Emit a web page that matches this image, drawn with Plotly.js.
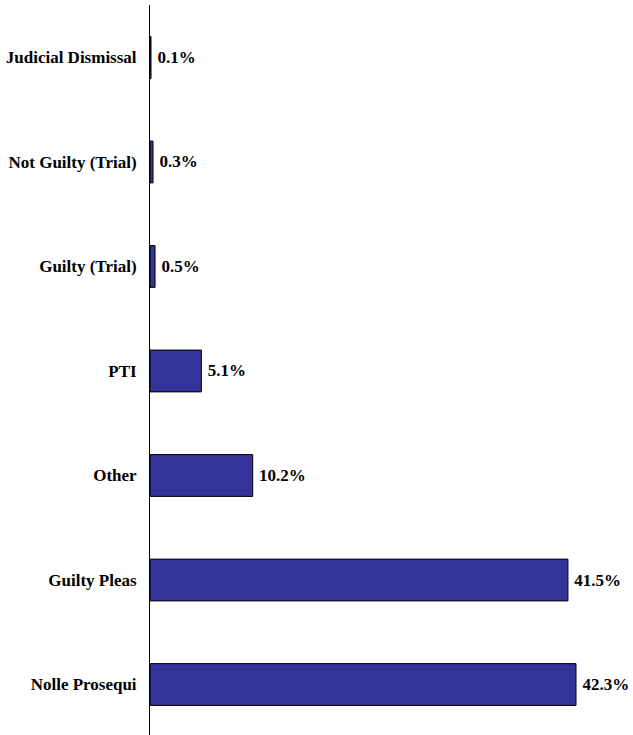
<!DOCTYPE html>
<html>
<head>
<meta charset="utf-8">
<script src="https://cdn.plot.ly/plotly-3.0.1.min.js"></script>
<style>html,body{margin:0;padding:0;background:#fff;}#chart{width:633px;height:735px;}</style>
</head>
<body>
<div id="chart"></div>
<script>
const categories = ["Judicial Dismissal", "Not Guilty (Trial)", "Guilty (Trial)", "PTI", "Other", "Guilty Pleas", "Nolle Prosequi"];
const percents = [0.1, 0.3, 0.5, 5.1, 10.2, 41.5, 42.3];

const fontFamily = "Liberation Serif, Times New Roman, serif";

const trace = {
  type: "bar",
  orientation: "h",
  y: categories,
  x: percents,
  width: 0.40,
  marker: {color: "#333399", line: {color: "#000000", width: 1}},
  texttemplate: "\u2009%{x:.1f}%",
  textposition: "outside",
  cliponaxis: false,
  textfont: {family: fontFamily, size: 17, color: "#000", weight: 700},
  hoverinfo: "none"
};

const layout = {
  width: 633,
  height: 735,
  margin: {l: 150, r: 0, t: 5, b: 0, pad: 0},
  paper_bgcolor: "#ffffff",
  plot_bgcolor: "#ffffff",
  showlegend: false,
  font: {family: fontFamily, size: 17, color: "#000"},
  xaxis: {
    range: [0, 47.96],
    showgrid: false, zeroline: false, showline: false,
    showticklabels: false, ticks: ""
  },
  yaxis: {
    type: "category",
    range: [6.483, -0.502],
    showgrid: false, zeroline: false,
    showline: true, linecolor: "#000", linewidth: 1,
    ticks: "", ticklabelstandoff: 9,
    tickfont: {family: fontFamily, size: 17, color: "#000", weight: 700}
  }
};

Plotly.newPlot("chart", [trace], layout, {displayModeBar: false, staticPlot: true});
</script>
</body>
</html>
